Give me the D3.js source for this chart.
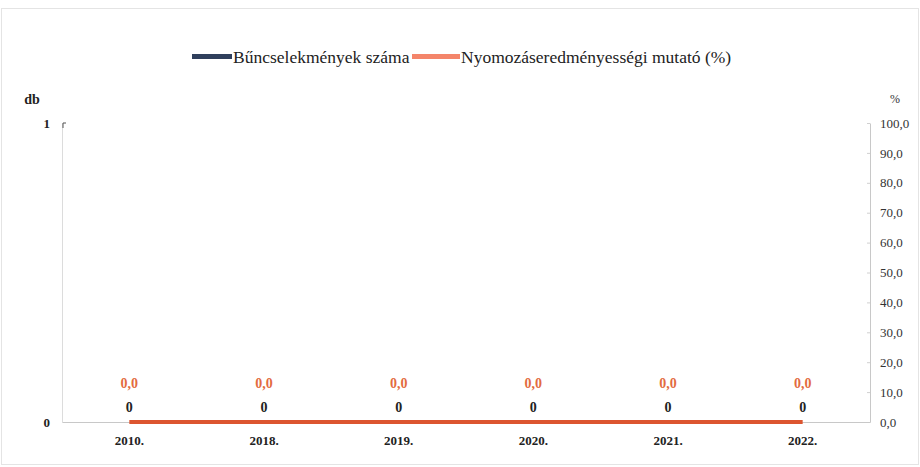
<!DOCTYPE html>
<html><head><meta charset="utf-8">
<script src="https://cdn.jsdelivr.net/npm/d3@7"></script>
<style>body{margin:0;background:#fff}svg{display:block}text{font-family:"Liberation Serif","Times New Roman",serif}</style>
</head><body>
<svg id="c" width="920" height="467"></svg>
<script>
const categories = ["2010.", "2018.", "2019.", "2020.", "2021.", "2022."];
const crimeCounts = [0, 0, 0, 0, 0, 0];
const clearanceRate = [0, 0, 0, 0, 0, 0];
const leftTicks = [0, 1];
const rightTicks = [0, 10, 20, 30, 40, 50, 60, 70, 80, 90, 100];
const seriesNames = ["Bűncselekmények száma", "Nyomozáseredményességi mutató (%)"];

const svg = d3.select("#c");
const m = {l: 62, r: 870, t: 123, b: 422};
svg.append("rect").attr("x",1.5).attr("y",8.5).attr("width",917).attr("height",456)
  .attr("fill","none").attr("stroke","#e4e4e4");

const x = d3.scaleBand().domain(categories).range([m.l, m.r]).paddingInner(0.45).paddingOuter(0.225);
const yL = d3.scaleLinear().domain([0,1]).range([m.b, m.t]);
const yR = d3.scaleLinear().domain([0,100]).range([m.b, m.t]);

// left axis
const gl = svg.append("g").attr("transform",`translate(${m.l},0)`)
  .call(d3.axisLeft(yL).tickValues(leftTicks).tickFormat(d3.format("d")).tickSize(0).tickPadding(12));
gl.select(".domain").attr("stroke","#dcdcdc");
gl.selectAll("text").attr("font-size",13).attr("font-weight","bold").attr("fill","#222");
svg.append("path").attr("d",`M${m.l+1},${m.t+5}V${m.t}h3`).attr("fill","none").attr("stroke","#555");
svg.append("text").attr("x",32).attr("y",104).attr("text-anchor","middle")
  .attr("font-size",14).attr("font-weight","bold").attr("fill","#222").text("db");

// right axis
const gr = svg.append("g").attr("transform",`translate(${m.r},0)`)
  .call(d3.axisRight(yR).tickValues(rightTicks).tickFormat(d=>d3.format(".1f")(d).replace(".",",")).tickSize(0).tickPadding(10));
gr.select(".domain").attr("stroke","#c8c8c8");
gr.selectAll(".tick line").attr("x2",-3).attr("stroke","#d0d0d0");
gr.selectAll("text").attr("font-size",13).attr("fill","#333");
svg.append("text").attr("x",895).attr("y",103).attr("text-anchor","middle")
  .attr("font-size",12).attr("fill","#333").text("%");

// bottom axis
const gb = svg.append("g").attr("transform",`translate(0,${m.b})`)
  .call(d3.axisBottom(x).tickSize(0).tickPadding(14));
gb.select(".domain").attr("stroke","#c8c8c8");
gb.selectAll("text").attr("font-size",13).attr("font-weight","bold").attr("fill","#222");

// bars (zero height)
svg.selectAll(".bar").data(crimeCounts).join("rect")
  .attr("x",(d,i)=>x(categories[i])).attr("width",x.bandwidth())
  .attr("y",d=>yL(d)).attr("height",d=>yL(0)-yL(d)).attr("fill","#2f3f5c");
svg.selectAll(".blab").data(crimeCounts).join("text")
  .attr("x",(d,i)=>x(categories[i])+x.bandwidth()/2).attr("y",d=>yL(d)-10)
  .attr("text-anchor","middle").attr("font-size",14).attr("font-weight","bold").attr("fill","#222")
  .text(d=>d3.format("d")(d));

// line
const line = d3.line().x((d,i)=>x(categories[i])+x.bandwidth()/2).y(d=>yR(d));
svg.append("path").datum(clearanceRate).attr("d",line)
  .attr("fill","none").attr("stroke","#dc5530").attr("stroke-width",4);
svg.selectAll(".llab").data(clearanceRate).join("text")
  .attr("x",(d,i)=>x(categories[i])+x.bandwidth()/2).attr("y",d=>yR(d)-34)
  .attr("text-anchor","middle").attr("font-size",14).attr("font-weight","bold").attr("fill","#e36b40")
  .text(d=>d3.format(".1f")(d).replace(".",","));

// legend
const leg = [{x:192, w:40, c:"#2f3f5c", t:seriesNames[0]},{x:412, w:48, c:"#f4856a", t:seriesNames[1]}];
leg.forEach(l=>{
  svg.append("rect").attr("x",l.x).attr("y",54).attr("width",l.w).attr("height",5).attr("fill",l.c);
  svg.append("text").attr("x",l.x+l.w+1).attr("y",63).attr("font-size",17.5).attr("fill","#222").text(l.t);
});
</script>
</body></html>
